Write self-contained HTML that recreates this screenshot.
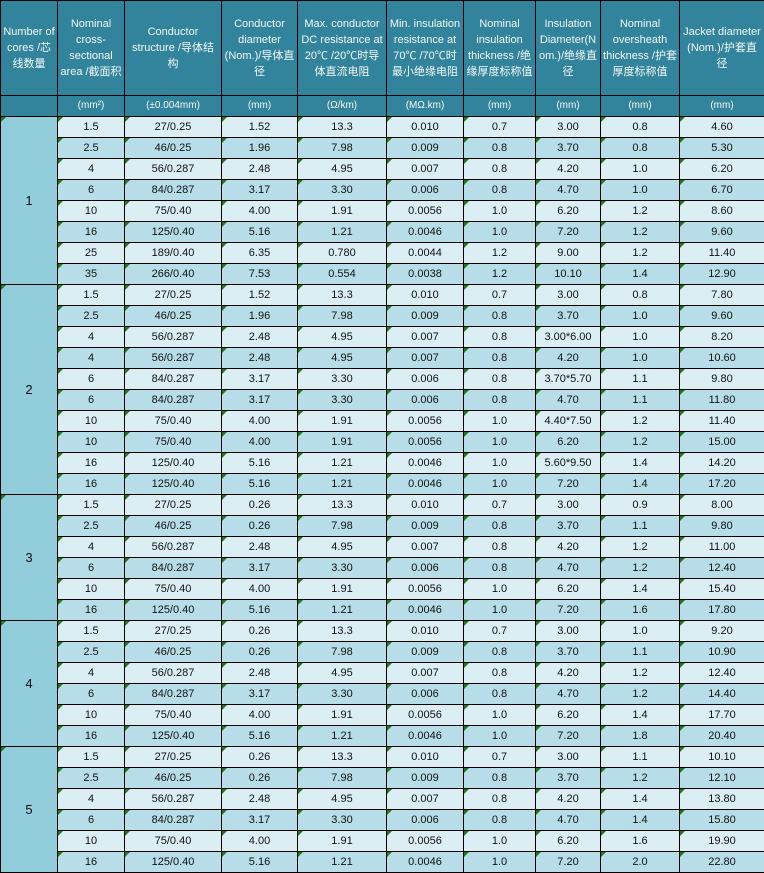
<!DOCTYPE html>
<html><head><meta charset="utf-8"><style>
html,body{margin:0;padding:0;background:#fff;}
table{border-collapse:collapse;table-layout:fixed;width:764px;font-family:"Liberation Sans","Noto Sans CJK SC",sans-serif;font-size:11px;color:#111;}
td,th{border:1px solid #000;text-align:center;padding:0;position:relative;overflow:hidden;}
th{background:#31849B;color:#f4f8fa;font-weight:normal;line-height:16px;padding:0 2px;word-break:break-word;}
tr.h th{height:94px;}
tr.u th{height:20px;font-size:10px;}
td{height:20px;}
tr.l td{background:#DAEEF3;}
tr.d td{background:#B7DEE8;}
td.c{background:#92CDDC !important;font-size:13px;}
td::before{content:"";position:absolute;left:0;top:0;border-top:5px solid #1a7a1a;border-right:5px solid transparent;}
</style></head><body>
<table>
<colgroup><col style="width:57px"><col style="width:67px"><col style="width:97px"><col style="width:76px"><col style="width:89px"><col style="width:77px"><col style="width:72px"><col style="width:65px"><col style="width:79px"><col style="width:85px"></colgroup>
<tr class="h"><th>Number of cores /芯线数量</th><th>Nominal cross-sectional area /截面积</th><th>Conductor structure /导体结构</th><th>Conductor diameter (Nom.)/导体直径</th><th>Max. conductor DC resistance at 20℃ /20℃时导体直流电阻</th><th>Min. insulation resistance at 70℃ /70℃时最小绝缘电阻</th><th>Nominal insulation thickness /绝缘厚度标称值</th><th>Insulation Diameter(Nom.)/绝缘直径</th><th>Nominal oversheath thickness /护套厚度标称值</th><th>Jacket diameter (Nom.)/护套直径</th></tr>
<tr class="u"><th></th><th>(mm²)</th><th>(±0.004mm)</th><th>(mm)</th><th>(Ω/km)</th><th>(MΩ.km)</th><th>(mm)</th><th>(mm)</th><th>(mm)</th><th>(mm)</th></tr>
<tr class="l"><td class="c" rowspan="8">1</td><td>1.5</td><td>27/0.25</td><td>1.52</td><td>13.3</td><td>0.010</td><td>0.7</td><td>3.00</td><td>0.8</td><td>4.60</td></tr>
<tr class="d"><td>2.5</td><td>46/0.25</td><td>1.96</td><td>7.98</td><td>0.009</td><td>0.8</td><td>3.70</td><td>0.8</td><td>5.30</td></tr>
<tr class="l"><td>4</td><td>56/0.287</td><td>2.48</td><td>4.95</td><td>0.007</td><td>0.8</td><td>4.20</td><td>1.0</td><td>6.20</td></tr>
<tr class="d"><td>6</td><td>84/0.287</td><td>3.17</td><td>3.30</td><td>0.006</td><td>0.8</td><td>4.70</td><td>1.0</td><td>6.70</td></tr>
<tr class="l"><td>10</td><td>75/0.40</td><td>4.00</td><td>1.91</td><td>0.0056</td><td>1.0</td><td>6.20</td><td>1.2</td><td>8.60</td></tr>
<tr class="d"><td>16</td><td>125/0.40</td><td>5.16</td><td>1.21</td><td>0.0046</td><td>1.0</td><td>7.20</td><td>1.2</td><td>9.60</td></tr>
<tr class="l"><td>25</td><td>189/0.40</td><td>6.35</td><td>0.780</td><td>0.0044</td><td>1.2</td><td>9.00</td><td>1.2</td><td>11.40</td></tr>
<tr class="d"><td>35</td><td>266/0.40</td><td>7.53</td><td>0.554</td><td>0.0038</td><td>1.2</td><td>10.10</td><td>1.4</td><td>12.90</td></tr>
<tr class="l"><td class="c" rowspan="10">2</td><td>1.5</td><td>27/0.25</td><td>1.52</td><td>13.3</td><td>0.010</td><td>0.7</td><td>3.00</td><td>0.8</td><td>7.80</td></tr>
<tr class="d"><td>2.5</td><td>46/0.25</td><td>1.96</td><td>7.98</td><td>0.009</td><td>0.8</td><td>3.70</td><td>1.0</td><td>9.60</td></tr>
<tr class="l"><td>4</td><td>56/0.287</td><td>2.48</td><td>4.95</td><td>0.007</td><td>0.8</td><td>3.00*6.00</td><td>1.0</td><td>8.20</td></tr>
<tr class="d"><td>4</td><td>56/0.287</td><td>2.48</td><td>4.95</td><td>0.007</td><td>0.8</td><td>4.20</td><td>1.0</td><td>10.60</td></tr>
<tr class="l"><td>6</td><td>84/0.287</td><td>3.17</td><td>3.30</td><td>0.006</td><td>0.8</td><td>3.70*5.70</td><td>1.1</td><td>9.80</td></tr>
<tr class="d"><td>6</td><td>84/0.287</td><td>3.17</td><td>3.30</td><td>0.006</td><td>0.8</td><td>4.70</td><td>1.1</td><td>11.80</td></tr>
<tr class="l"><td>10</td><td>75/0.40</td><td>4.00</td><td>1.91</td><td>0.0056</td><td>1.0</td><td>4.40*7.50</td><td>1.2</td><td>11.40</td></tr>
<tr class="d"><td>10</td><td>75/0.40</td><td>4.00</td><td>1.91</td><td>0.0056</td><td>1.0</td><td>6.20</td><td>1.2</td><td>15.00</td></tr>
<tr class="l"><td>16</td><td>125/0.40</td><td>5.16</td><td>1.21</td><td>0.0046</td><td>1.0</td><td>5.60*9.50</td><td>1.4</td><td>14.20</td></tr>
<tr class="d"><td>16</td><td>125/0.40</td><td>5.16</td><td>1.21</td><td>0.0046</td><td>1.0</td><td>7.20</td><td>1.4</td><td>17.20</td></tr>
<tr class="l"><td class="c" rowspan="6">3</td><td>1.5</td><td>27/0.25</td><td>0.26</td><td>13.3</td><td>0.010</td><td>0.7</td><td>3.00</td><td>0.9</td><td>8.00</td></tr>
<tr class="d"><td>2.5</td><td>46/0.25</td><td>0.26</td><td>7.98</td><td>0.009</td><td>0.8</td><td>3.70</td><td>1.1</td><td>9.80</td></tr>
<tr class="l"><td>4</td><td>56/0.287</td><td>2.48</td><td>4.95</td><td>0.007</td><td>0.8</td><td>4.20</td><td>1.2</td><td>11.00</td></tr>
<tr class="d"><td>6</td><td>84/0.287</td><td>3.17</td><td>3.30</td><td>0.006</td><td>0.8</td><td>4.70</td><td>1.2</td><td>12.40</td></tr>
<tr class="l"><td>10</td><td>75/0.40</td><td>4.00</td><td>1.91</td><td>0.0056</td><td>1.0</td><td>6.20</td><td>1.4</td><td>15.40</td></tr>
<tr class="d"><td>16</td><td>125/0.40</td><td>5.16</td><td>1.21</td><td>0.0046</td><td>1.0</td><td>7.20</td><td>1.6</td><td>17.80</td></tr>
<tr class="l"><td class="c" rowspan="6">4</td><td>1.5</td><td>27/0.25</td><td>0.26</td><td>13.3</td><td>0.010</td><td>0.7</td><td>3.00</td><td>1.0</td><td>9.20</td></tr>
<tr class="d"><td>2.5</td><td>46/0.25</td><td>0.26</td><td>7.98</td><td>0.009</td><td>0.8</td><td>3.70</td><td>1.1</td><td>10.90</td></tr>
<tr class="l"><td>4</td><td>56/0.287</td><td>2.48</td><td>4.95</td><td>0.007</td><td>0.8</td><td>4.20</td><td>1.2</td><td>12.40</td></tr>
<tr class="d"><td>6</td><td>84/0.287</td><td>3.17</td><td>3.30</td><td>0.006</td><td>0.8</td><td>4.70</td><td>1.2</td><td>14.40</td></tr>
<tr class="l"><td>10</td><td>75/0.40</td><td>4.00</td><td>1.91</td><td>0.0056</td><td>1.0</td><td>6.20</td><td>1.4</td><td>17.70</td></tr>
<tr class="d"><td>16</td><td>125/0.40</td><td>5.16</td><td>1.21</td><td>0.0046</td><td>1.0</td><td>7.20</td><td>1.8</td><td>20.40</td></tr>
<tr class="l"><td class="c" rowspan="6">5</td><td>1.5</td><td>27/0.25</td><td>0.26</td><td>13.3</td><td>0.010</td><td>0.7</td><td>3.00</td><td>1.1</td><td>10.10</td></tr>
<tr class="d"><td>2.5</td><td>46/0.25</td><td>0.26</td><td>7.98</td><td>0.009</td><td>0.8</td><td>3.70</td><td>1.2</td><td>12.10</td></tr>
<tr class="l"><td>4</td><td>56/0.287</td><td>2.48</td><td>4.95</td><td>0.007</td><td>0.8</td><td>4.20</td><td>1.4</td><td>13.80</td></tr>
<tr class="d"><td>6</td><td>84/0.287</td><td>3.17</td><td>3.30</td><td>0.006</td><td>0.8</td><td>4.70</td><td>1.4</td><td>15.80</td></tr>
<tr class="l"><td>10</td><td>75/0.40</td><td>4.00</td><td>1.91</td><td>0.0056</td><td>1.0</td><td>6.20</td><td>1.6</td><td>19.90</td></tr>
<tr class="d"><td>16</td><td>125/0.40</td><td>5.16</td><td>1.21</td><td>0.0046</td><td>1.0</td><td>7.20</td><td>2.0</td><td>22.80</td></tr>
</table>
</body></html>
